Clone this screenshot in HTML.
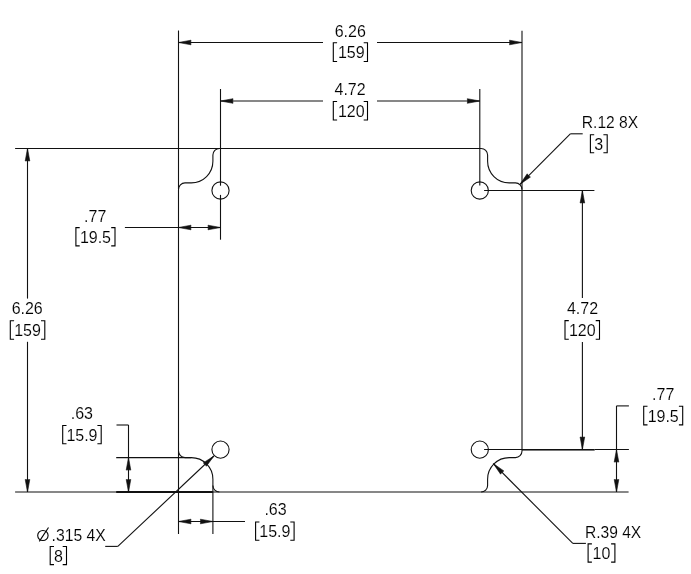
<!DOCTYPE html>
<html><head><meta charset="utf-8"><style>
html,body{margin:0;padding:0;background:#fff;width:691px;height:574px;overflow:hidden}
svg{display:block;font-family:"Liberation Sans",sans-serif;will-change:transform}
</style></head><body>
<svg width="691" height="574" viewBox="0 0 691 574">
<rect width="691" height="574" fill="#fff"/>
<path d="M219.4,148.5 H481.1 A6.5,6.5 0 0 1 487.6,155.0 V161.3 A21.6,21.6 0 0 0 509.20000000000005,182.9 H515.5 A6.5,6.5 0 0 1 522.0,189.4 V451.1 A6.5,6.5 0 0 1 515.5,457.6 H509.20000000000005 A21.6,21.6 0 0 0 487.6,479.20000000000005 V485.5 A6.5,6.5 0 0 1 481.1,492.0 H219.4 A6.5,6.5 0 0 1 212.9,485.5 V479.20000000000005 A21.6,21.6 0 0 0 191.3,457.6 H185.0 A6.5,6.5 0 0 1 178.5,451.1 V189.4 A6.5,6.5 0 0 1 185.0,182.9 H191.3 A21.6,21.6 0 0 0 212.9,161.3 V155.0 A6.5,6.5 0 0 1 219.4,148.5 Z" fill="none" stroke="#111" stroke-width="1.1"/>
<g font-family="Liberation Sans, sans-serif" fill="#000" >
<line x1="15.1" y1="148.5" x2="219.4" y2="148.5" stroke="#111" stroke-width="1.1"/>
<line x1="15.1" y1="492.0" x2="219.4" y2="492.0" stroke="#111" stroke-width="1.1"/>
<line x1="481.1" y1="492.0" x2="628.6" y2="492.0" stroke="#111" stroke-width="1.1"/>
<line x1="116.2" y1="492.0" x2="212.9" y2="492.0" stroke="#111" stroke-width="1.9"/>
<line x1="178.5" y1="30.5" x2="178.5" y2="189.4" stroke="#111" stroke-width="1.1"/>
<line x1="178.5" y1="451.1" x2="178.5" y2="534" stroke="#111" stroke-width="1.1"/>
<line x1="522.0" y1="30.7" x2="522.0" y2="189.4" stroke="#111" stroke-width="1.1"/>
<line x1="116.2" y1="457.6" x2="191.3" y2="457.6" stroke="#111" stroke-width="1.1"/>
<line x1="212.9" y1="485.5" x2="212.9" y2="534" stroke="#111" stroke-width="1.1"/>
<line x1="220.5" y1="89" x2="220.5" y2="185.7" stroke="#111" stroke-width="1.1"/>
<line x1="220.5" y1="194.9" x2="220.5" y2="239.7" stroke="#111" stroke-width="1.1"/>
<line x1="479.8" y1="89" x2="479.8" y2="185.6" stroke="#111" stroke-width="1.1"/>
<line x1="484.1" y1="190.5" x2="594.4" y2="190.5" stroke="#111" stroke-width="1.1"/>
<line x1="484.1" y1="449.5" x2="594.7" y2="449.5" stroke="#111" stroke-width="1.0"/>
<line x1="522" y1="450.3" x2="594.7" y2="450.3" stroke="#111" stroke-width="0.7"/>
<line x1="594.7" y1="449.5" x2="628.9" y2="449.5" stroke="#111" stroke-width="1.0"/>
<line x1="178.5" y1="42.5" x2="323" y2="42.5" stroke="#111" stroke-width="1.1"/>
<line x1="377" y1="42.5" x2="522.0" y2="42.5" stroke="#111" stroke-width="1.1"/>
<polygon points="178.50,42.50 191.00,40.20 190.70,42.50 191.00,44.80" fill="#111" stroke="#111" stroke-width="0.6" stroke-linejoin="round"/>
<polygon points="522.00,42.50 509.50,44.80 509.80,42.50 509.50,40.20" fill="#111" stroke="#111" stroke-width="0.6" stroke-linejoin="round"/>
<line x1="220.5" y1="101" x2="323" y2="101" stroke="#111" stroke-width="1.1"/>
<line x1="377" y1="101" x2="479.8" y2="101" stroke="#111" stroke-width="1.1"/>
<polygon points="220.50,101.00 233.00,98.70 232.70,101.00 233.00,103.30" fill="#111" stroke="#111" stroke-width="0.6" stroke-linejoin="round"/>
<polygon points="479.80,101.00 467.30,103.30 467.60,101.00 467.30,98.70" fill="#111" stroke="#111" stroke-width="0.6" stroke-linejoin="round"/>
<line x1="27.5" y1="148.5" x2="27.5" y2="298.6" stroke="#111" stroke-width="1.1"/>
<line x1="27.5" y1="341.8" x2="27.5" y2="492.0" stroke="#111" stroke-width="1.1"/>
<polygon points="27.50,148.50 29.80,161.00 27.50,160.70 25.20,161.00" fill="#111" stroke="#111" stroke-width="0.6" stroke-linejoin="round"/>
<polygon points="27.50,492.00 25.20,479.50 27.50,479.80 29.80,479.50" fill="#111" stroke="#111" stroke-width="0.6" stroke-linejoin="round"/>
<line x1="124.9" y1="227.5" x2="220.5" y2="227.5" stroke="#111" stroke-width="1.1"/>
<polygon points="178.50,227.50 191.00,225.20 190.70,227.50 191.00,229.80" fill="#111" stroke="#111" stroke-width="0.6" stroke-linejoin="round"/>
<polygon points="220.50,227.50 208.00,229.80 208.30,227.50 208.00,225.20" fill="#111" stroke="#111" stroke-width="0.6" stroke-linejoin="round"/>
<line x1="582.4" y1="190.5" x2="582.4" y2="298.1" stroke="#111" stroke-width="1.1"/>
<line x1="582.4" y1="342" x2="582.4" y2="449.5" stroke="#111" stroke-width="1.1"/>
<polygon points="582.40,190.50 584.70,203.00 582.40,202.70 580.10,203.00" fill="#111" stroke="#111" stroke-width="0.6" stroke-linejoin="round"/>
<polygon points="582.40,449.50 580.10,437.00 582.40,437.30 584.70,437.00" fill="#111" stroke="#111" stroke-width="0.6" stroke-linejoin="round"/>
<line x1="616.5" y1="405.9" x2="616.5" y2="492.0" stroke="#111" stroke-width="1.1"/>
<line x1="616.5" y1="405.9" x2="628.9" y2="405.9" stroke="#111" stroke-width="1.1"/>
<polygon points="616.50,449.60 618.80,462.10 616.50,461.80 614.20,462.10" fill="#111" stroke="#111" stroke-width="0.6" stroke-linejoin="round"/>
<polygon points="616.50,492.00 614.20,479.50 616.50,479.80 618.80,479.50" fill="#111" stroke="#111" stroke-width="0.6" stroke-linejoin="round"/>
<line x1="128.5" y1="425" x2="128.5" y2="492.0" stroke="#111" stroke-width="1.1"/>
<line x1="116.5" y1="425" x2="128.5" y2="425" stroke="#111" stroke-width="1.1"/>
<polygon points="128.50,457.60 130.80,470.10 128.50,469.80 126.20,470.10" fill="#111" stroke="#111" stroke-width="0.6" stroke-linejoin="round"/>
<polygon points="128.50,492.00 126.20,479.50 128.50,479.80 130.80,479.50" fill="#111" stroke="#111" stroke-width="0.6" stroke-linejoin="round"/>
<line x1="178.5" y1="521.5" x2="245" y2="521.5" stroke="#111" stroke-width="1.1"/>
<polygon points="178.50,521.50 191.00,519.20 190.70,521.50 191.00,523.80" fill="#111" stroke="#111" stroke-width="0.6" stroke-linejoin="round"/>
<polygon points="212.90,521.50 200.40,523.80 200.70,521.50 200.40,519.20" fill="#111" stroke="#111" stroke-width="0.6" stroke-linejoin="round"/>
<line x1="570.3" y1="133.8" x2="582.7" y2="133.8" stroke="#111" stroke-width="1.1"/>
<line x1="570.3" y1="133.8" x2="520" y2="184.3" stroke="#111" stroke-width="1.1"/>
<polygon points="520.00,184.30 527.19,173.82 528.61,175.66 530.45,177.07" fill="#111" stroke="#111" stroke-width="0.6" stroke-linejoin="round"/>
<line x1="572.8" y1="543.4" x2="585.9" y2="543.4" stroke="#111" stroke-width="1.1"/>
<line x1="572.8" y1="543.4" x2="493.4" y2="463.7" stroke="#111" stroke-width="1.1"/>
<polygon points="493.40,463.70 503.85,470.93 502.01,472.34 500.59,474.18" fill="#111" stroke="#111" stroke-width="0.6" stroke-linejoin="round"/>
<line x1="105.2" y1="546.4" x2="117.8" y2="546.4" stroke="#111" stroke-width="1.1"/>
<line x1="117.8" y1="546.4" x2="213.9" y2="456" stroke="#111" stroke-width="1.1"/>
<polygon points="213.90,456.00 206.37,466.24 205.01,464.36 203.22,462.89" fill="#111" stroke="#111" stroke-width="0.6" stroke-linejoin="round"/>
<text x="350.3" y="37" text-anchor="middle" font-size="16" stroke="#fff" stroke-width="0.12">6.26</text>
<path d="M337.1,42.8 H333.3 V61.5 H337.1 M363.7,42.8 H367.5 V61.5 H363.7" fill="none" stroke="#000" stroke-width="1.1"/>
<text x="351.3" y="58" text-anchor="middle" font-size="16" stroke="#fff" stroke-width="0.12">159</text>
<text x="350.1" y="95" text-anchor="middle" font-size="16" stroke="#fff" stroke-width="0.12">4.72</text>
<path d="M337.1,101.5 H333.3 V120.0 H337.1 M363.7,101.5 H367.5 V120.0 H363.7" fill="none" stroke="#000" stroke-width="1.1"/>
<text x="351.3" y="117" text-anchor="middle" font-size="16" stroke="#fff" stroke-width="0.12">120</text>
<text x="95.2" y="222" text-anchor="middle" font-size="16" stroke="#fff" stroke-width="0.12">.77</text>
<path d="M79.7,227.6 H75.9 V245.9 H79.7 M111.2,227.6 H115.0 V245.9 H111.2" fill="none" stroke="#000" stroke-width="1.1"/>
<text x="95.45" y="242.5" text-anchor="middle" font-size="16" stroke="#fff" stroke-width="0.12">19.5</text>
<text x="27.2" y="314" text-anchor="middle" font-size="16" stroke="#fff" stroke-width="0.12">6.26</text>
<path d="M14.100000000000001,320.7 H10.3 V339.2 H14.100000000000001 M41.0,320.7 H44.8 V339.2 H41.0" fill="none" stroke="#000" stroke-width="1.1"/>
<text x="27.549999999999997" y="335.5" text-anchor="middle" font-size="16" stroke="#fff" stroke-width="0.12">159</text>
<text x="581.8" y="128" text-anchor="start" font-size="16" stroke="#fff" stroke-width="0.12" textLength="56.4" lengthAdjust="spacingAndGlyphs">R.12 8X</text>
<path d="M594.1999999999999,134.8 H590.4 V152.7 H594.1999999999999 M603.4000000000001,134.8 H607.2 V152.7 H603.4000000000001" fill="none" stroke="#000" stroke-width="1.1"/>
<text x="598.8" y="150" text-anchor="middle" font-size="16" stroke="#fff" stroke-width="0.12">3</text>
<text x="582.5" y="314" text-anchor="middle" font-size="16" stroke="#fff" stroke-width="0.12">4.72</text>
<path d="M568.8,320.6 H565.0 V339.2 H568.8 M595.7,320.6 H599.5 V339.2 H595.7" fill="none" stroke="#000" stroke-width="1.1"/>
<text x="582.25" y="336" text-anchor="middle" font-size="16" stroke="#fff" stroke-width="0.12">120</text>
<text x="663.2" y="400" text-anchor="middle" font-size="16" stroke="#fff" stroke-width="0.12">.77</text>
<path d="M647.5,406.2 H643.7 V424.9 H647.5 M678.9000000000001,406.2 H682.7 V424.9 H678.9000000000001" fill="none" stroke="#000" stroke-width="1.1"/>
<text x="663.2" y="421.5" text-anchor="middle" font-size="16" stroke="#fff" stroke-width="0.12">19.5</text>
<text x="81.9" y="419" text-anchor="middle" font-size="16" stroke="#fff" stroke-width="0.12">.63</text>
<path d="M66.5,425.5 H62.7 V443.7 H66.5 M97.4,425.5 H101.2 V443.7 H97.4" fill="none" stroke="#000" stroke-width="1.1"/>
<text x="81.95" y="441.3" text-anchor="middle" font-size="16" stroke="#fff" stroke-width="0.12">15.9</text>
<text x="51.6" y="540.6" text-anchor="start" font-size="16" stroke="#fff" stroke-width="0.12" textLength="54.2" lengthAdjust="spacingAndGlyphs">.315 4X</text>
<path d="M54.0,546.5 H50.2 V564.6 H54.0 M62.7,546.5 H66.5 V564.6 H62.7" fill="none" stroke="#000" stroke-width="1.1"/>
<text x="58.35" y="562" text-anchor="middle" font-size="16" stroke="#fff" stroke-width="0.12">8</text>
<text x="275.5" y="514.5" text-anchor="middle" font-size="16" stroke="#fff" stroke-width="0.12">.63</text>
<path d="M259.4,522.0 H255.6 V540.3 H259.4 M290.3,522.0 H294.1 V540.3 H290.3" fill="none" stroke="#000" stroke-width="1.1"/>
<text x="274.85" y="537.2" text-anchor="middle" font-size="16" stroke="#fff" stroke-width="0.12">15.9</text>
<text x="584.9" y="537.5" text-anchor="start" font-size="16" stroke="#fff" stroke-width="0.12" textLength="56.3" lengthAdjust="spacingAndGlyphs">R.39 4X</text>
<path d="M591.9,543.9 H588.1 V562.1 H591.9 M611.1,543.9 H614.9 V562.1 H611.1" fill="none" stroke="#000" stroke-width="1.1"/>
<text x="601.5" y="559.2" text-anchor="middle" font-size="16" stroke="#fff" stroke-width="0.12">10</text>
<ellipse cx="42.9" cy="535.5" rx="5.2" ry="5.0" fill="none" stroke="#000" stroke-width="1.1"/>
<line x1="39.3" y1="541.4" x2="48.5" y2="527.5" stroke="#000" stroke-width="1.1"/>
<circle cx="220.5" cy="190.5" r="8.6" fill="none" stroke="#111" stroke-width="1.1"/>
<circle cx="479.8" cy="190.5" r="8.6" fill="none" stroke="#111" stroke-width="1.1"/>
<circle cx="220.5" cy="449.6" r="8.6" fill="none" stroke="#111" stroke-width="1.1"/>
<circle cx="479.8" cy="449.6" r="8.6" fill="none" stroke="#111" stroke-width="1.1"/>
</g>
</svg>
</body></html>
